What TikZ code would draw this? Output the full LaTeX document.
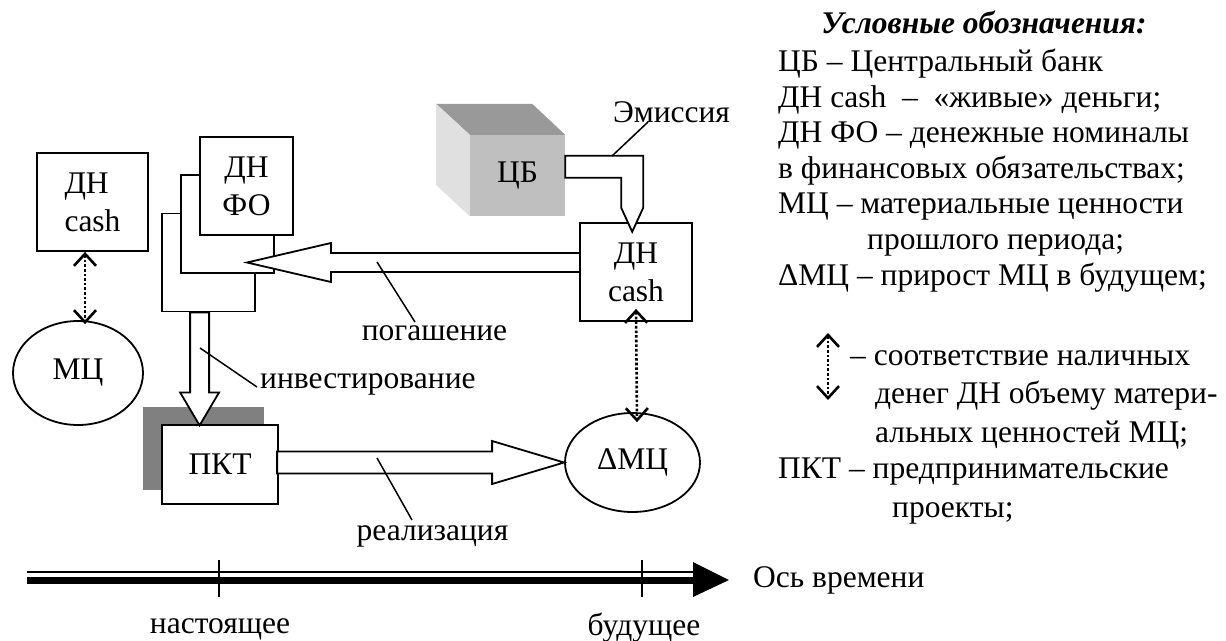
\documentclass[tikz,border=0pt]{standalone}
\usepackage{fontspec}
\setmainfont{Liberation Serif}
\usetikzlibrary{arrows.meta,calc,shapes.geometric}
\pgfdeclarelayer{background}
\pgfsetlayers{background,main}
\definecolor{cbfront}{gray}{0.75}
\definecolor{cbtop}{gray}{0.6}
\definecolor{cbside}{gray}{0.88}
\definecolor{pktshadow}{gray}{0.5}

\begin{document}
\begin{tikzpicture}[x=1pt,y=-1pt,
  every node/.style={font=\fontsize{31.5}{38}\selectfont},
  box/.style={draw,line width=1.8pt,fill=white,inner sep=0pt,align=center},
  oval/.style={draw,ellipse,line width=1.8pt,inner sep=0pt},
  hollow/.style={draw,line width=1.8pt,fill=white,line join=miter},
  lead/.style={line width=1.5pt},
  corr/.style={line width=2.6pt,dash pattern=on 2.6pt off 2pt,
    {Straight Barb[length=12pt,width=22pt]}-{Straight Barb[length=12pt,width=22pt]}},
  lbl/.style={inner sep=0pt},
  tick/.style={line width=1.5pt}]
\useasboundingbox (0,0) rectangle (1226,640);

% blocks
\node[box,align=left,minimum width=111pt,minimum height=98pt] (dn1) at (92.5,202) {ДН\\cash};
\node[oval,minimum width=130pt,minimum height=104pt] (mc1) at (78,373) {МЦ};
\node[box,minimum width=93pt,minimum height=98pt] (fo3) at (208.5,262.5) {};
\node[box,minimum width=93pt,minimum height=98pt] (fo2) at (227.5,224) {};
\node[box,minimum width=93pt,minimum height=98pt] (fo1) at (246.5,186) {ДН\\ФО};
\node[box,minimum width=112pt,minimum height=98pt] (dn2) at (636,272) {ДН\\cash};
\node[box,minimum width=116pt,minimum height=79pt] (pkt) at (220,464.5) {ПКТ};
\node[oval,minimum width=135pt,minimum height=99pt] (dmc) at (632.5,462.5) {ΔМЦ};

\begin{pgfonlayer}{background}
\fill[pktshadow] ([shift={(-18pt,15pt)}]pkt.south west) rectangle ([shift={(-15pt,17pt)}]pkt.north east);
\end{pgfonlayer}

% central bank cube
\node[fill=cbfront,inner sep=0pt,minimum width=95pt,minimum height=81pt] (cb) at (517.5,175.5) {ЦБ};
\fill[cbtop] (cb.north west) -- (cb.north east) -- ++(-33,-31) -- ++(-96,0) -- cycle;
\fill[cbside] (cb.north west) -- ++(-34,-31) -- ++(0,81) -- (cb.south west) -- cycle;

% flows
\draw[hollow] (cb.north east) ++(0,21) -- ++(78,0) -- ++(0,52) -- ++(-11,24) -- ++(-11,-24) -- ++(0,-30) -- ++(-56,0) -- cycle;
\coordinate (fotip) at (247,262.5);
\draw[hollow] (fotip) -- ++(84,-19.5) -- ++(0,10) -- ++(249,0) -- ++(0,19) -- ++(-249,0) -- ++(0,10) -- cycle;
\draw[hollow] (fo3.south west) ++(29,0) -- ++(0,80) -- ++(-10,0) -- ++(19.5,33) -- ++(19.5,-33) -- ++(-10,0) -- ++(0,-80) -- cycle;
\draw[hollow] (dmc.west) -- ++(-72,-21.5) -- ++(0,10.5) -- ++(-215,0) -- ++(0,22) -- ++(215,0) -- ++(0,10.5) -- cycle;

% correspondence
\draw[corr] ([xshift=-7.5pt]dn1.south) -- ([xshift=7pt,yshift=-4pt]mc1.north);
\draw[corr] ([yshift=13pt]dn2.south) -- ([xshift=4.5pt,yshift=-10pt]dmc.north);

% flow labels
\node[lbl,anchor=base] (em) at (671.5,122) {Эмиссия};
\node[lbl,anchor=base] (pg) at (434.5,340) {погашение};
\node[lbl,anchor=base west] (inv) at (260,388) {инвестирование};
\node[lbl,anchor=base] (re) at (432.5,540) {реализация};
\coordinate (empt) at (612,156);
\coordinate (pgpt) at (377,262);
\coordinate (invpt) at (200,348);
\coordinate (rept) at (377,458);
\draw[lead] (empt) -- ([xshift=-23.5pt]em.base);
\draw[lead] (pgpt) -- ([xshift=-19.5pt,yshift=18pt]pg.base);
\draw[lead] (invpt) -- ([xshift=-3pt,yshift=1pt]inv.base west);
\draw[lead] (rept) -- ([xshift=-20.5pt,yshift=20pt]re.base);

% time axis
\coordinate (ax0) at (27,580.5);
\coordinate (axtip) at (729,580);
\draw[line width=7pt] (ax0) -- ($(axtip)+(-36,0.5)$);
\draw[line width=1.2pt] ($(ax0)+(0,-8.5)$) -- ($(axtip)+(-36,-8)$);
\fill ($(axtip)+(-36,-18)$) -- (axtip) -- ($(axtip)+(-36,17)$) -- cycle;
\node[lbl,anchor=base] (now) at (220,633) {настоящее};
\node[lbl,anchor=base] (fut) at (644,635) {будущее};
\node[lbl,anchor=base west] (axis) at (753,587) {Ось времени};
\draw[tick] (219,560) -- (219,597);
\draw[tick] (642,560) -- (642,597);

% legend
\node[lbl,anchor=base,font=\fontsize{31.5}{38}\selectfont\bfseries\itshape] (lgtitle) at (984,33) {Условные обозначения:};
\node[lbl,anchor=base west] (lg1) at (778,71) {ЦБ – Центральный банк};
\node[lbl,anchor=base west] (lg2) at (778,107) {ДН cash\ \ –\ \ «живые» деньги;};
\node[lbl,anchor=base west] (lg3) at (778,142) {ДН ФО – денежные номиналы};
\node[lbl,anchor=base west] (lg4) at (778,178) {в финансовых обязательствах;};
\node[lbl,anchor=base west] (lg5) at (778,213) {МЦ – материальные ценности};
\node[lbl,anchor=base west] (lg6) at (867,249) {прошлого периода;};
\node[lbl,anchor=base west] (lg7) at (778,285) {ΔМЦ – прирост МЦ в будущем;};
\coordinate (lgA) at (828,333);
\coordinate (lgB) at (828,400);
\draw[corr] (lgA) -- (lgB);
\node[lbl,anchor=base west] (lg8) at (850,365) {– соответствие наличных};
\node[lbl,anchor=base west] (lg9) at (875,403) {денег ДН объему матери-};
\node[lbl,anchor=base west] (lg10) at (875,442) {альных ценностей МЦ;};
\node[lbl,anchor=base west] (lg11) at (778,478) {ПКТ – предпринимательские};
\node[lbl,anchor=base west] (lg12) at (892,517) {проекты;};
\end{tikzpicture}
\end{document}
